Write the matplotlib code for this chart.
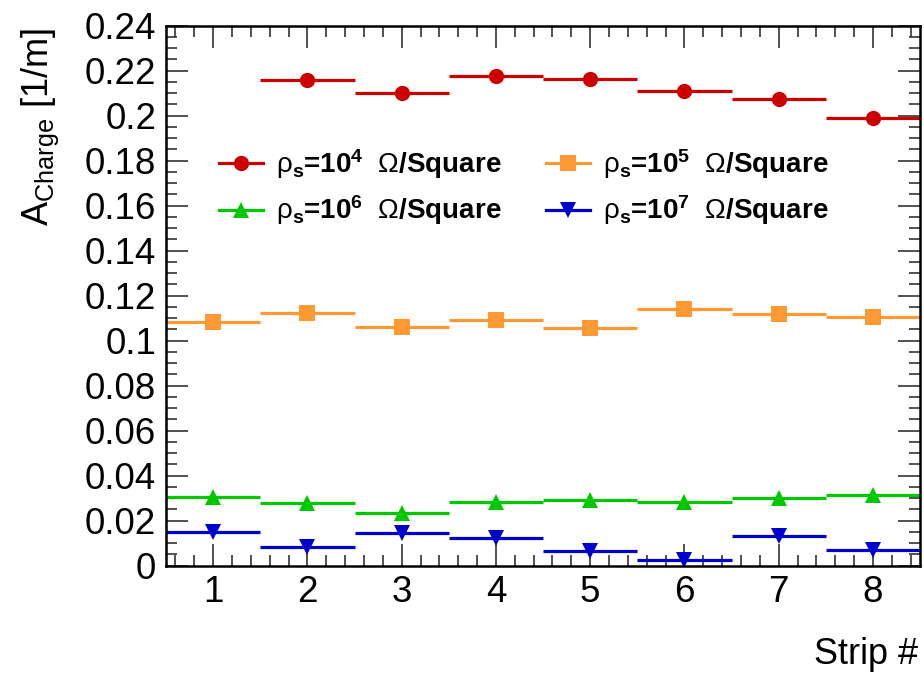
import numpy as np
import matplotlib
matplotlib.use("Agg")
import matplotlib.pyplot as plt
from matplotlib.lines import Line2D
from matplotlib.ticker import MultipleLocator

plt.rcParams['font.family'] = ['Liberation Sans', 'DejaVu Sans']
plt.rcParams['mathtext.fontset'] = 'custom'
plt.rcParams['mathtext.rm'] = 'Liberation Sans'
plt.rcParams['mathtext.bf'] = 'Liberation Sans:bold'
plt.rcParams['mathtext.it'] = 'Liberation Sans:italic'

# strip number and measured A_Charge per sheet resistivity
strips = [1, 2, 3, 4, 5, 6, 7, 8]
rho_1e4 = [np.nan, 0.2157, 0.2100, 0.2175, 0.2164, 0.2111, 0.2073, 0.1988]
rho_1e5 = [0.1084, 0.1122, 0.1062, 0.1093, 0.1058, 0.1141, 0.1117, 0.1104]
rho_1e6 = [0.0305, 0.0280, 0.0234, 0.0284, 0.0293, 0.0284, 0.0301, 0.0314]
rho_1e7 = [0.0150, 0.0082, 0.0147, 0.0122, 0.0067, 0.0024, 0.0133, 0.0071]
exponents = ['4', '5', '6', '7']

series = [
    (rho_1e4, '#cc0000', 'o'),
    (rho_1e5, '#ff9933', 's'),
    (rho_1e6, '#00c800', '^'),
    (rho_1e7, '#0000cc', 'v'),
]

fig = plt.figure(figsize=(9.24, 6.74), dpi=100)
ax = fig.add_axes([0.1797, 0.1607, 0.8160, 0.8012])

handles = []
for (vals, col, mk), exp in zip(series, exponents):
    ax.errorbar(strips, vals, xerr=0.5, fmt=mk, color=col, ms=11,
                elinewidth=2.3, capsize=0, mew=0)
    lab = r'$\mathrm{\rho}_{\mathbf{s}}$=10$^{\mathbf{%s}}$  $\mathrm{\Omega}$/Square' % exp
    handles.append(Line2D([], [], color=col, marker=mk, ms=11, lw=2.3,
                          mew=0, label=lab))

ax.set_xlim(0.5, 8.5)
ax.set_ylim(0, 0.24)
ax.xaxis.set_major_locator(MultipleLocator(1))
ax.xaxis.set_minor_locator(MultipleLocator(0.2))
ax.yaxis.set_minor_locator(MultipleLocator(0.005))
ax.set_yticks(np.arange(0, 0.2401, 0.02))
ax.set_yticklabels(['0', '0.02', '0.04', '0.06', '0.08', '0.1', '0.12',
                    '0.14', '0.16', '0.18', '0.2', '0.22', '0.24'])
ax.tick_params(which='both', direction='in', top=True, right=True,
               labelsize=26.5, width=1.2, color='#333333')
ax.tick_params(which='major', length=16, pad=7)
ax.tick_params(which='minor', length=8)
for s in ax.spines.values():
    s.set_linewidth(1.8)

# row-wise order like the reference
leg = ax.legend(handles=[handles[0], handles[2], handles[1], handles[3]],
                ncol=2, frameon=False, loc='upper left',
                bbox_to_anchor=(0.07, 0.775), borderaxespad=0, borderpad=0,
                handlelength=1.6, handletextpad=0.45, columnspacing=1.6,
                labelspacing=0.45,
                prop={'size': 20, 'weight': 'bold'})

fig.text(40 / 924, 1 - 28 / 674, r'A$_{\mathrm{Charge}}$ [1/m]', rotation=90,
         ha='center', va='top', fontsize=26)
fig.text(918 / 924, 1 - 655 / 674, 'Strip #', ha='right', va='center',
         fontsize=26)

fig.savefig('out.png', dpi=100)
